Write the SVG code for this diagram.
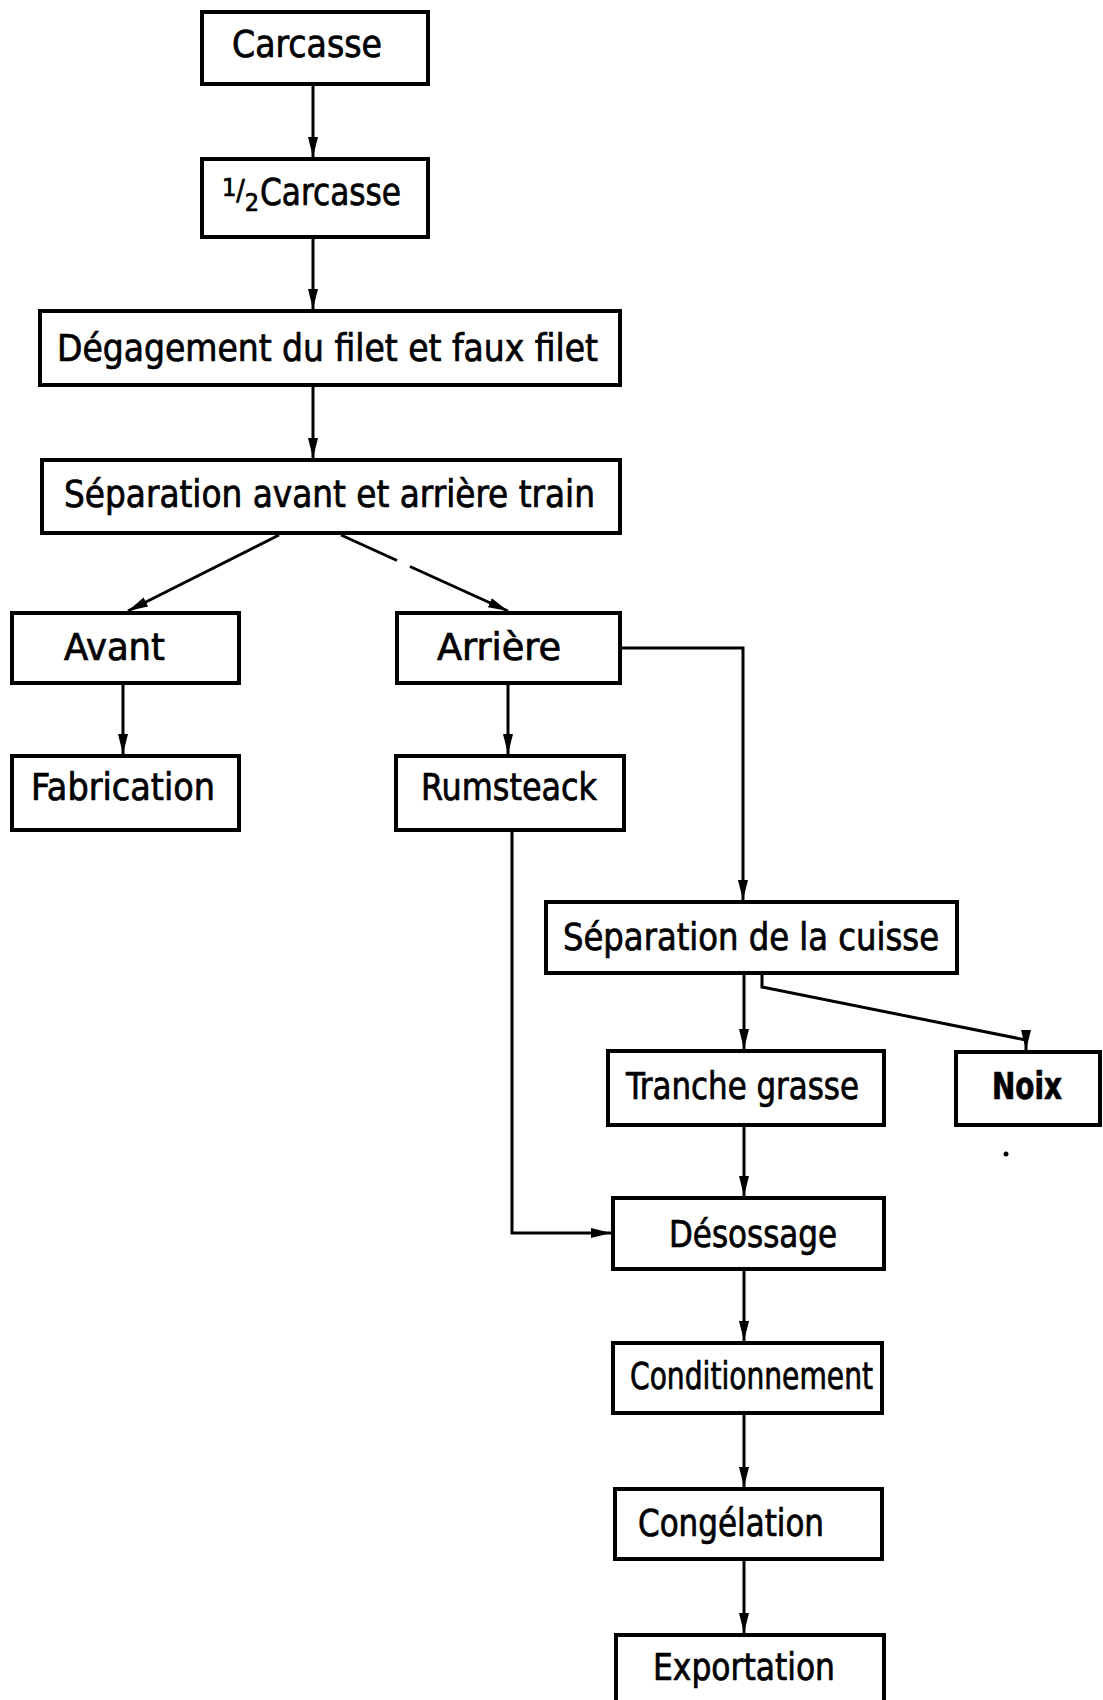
<svg xmlns="http://www.w3.org/2000/svg" width="1103" height="1700" viewBox="0 0 1103 1700">
<style>
.box{fill:#fff;stroke:#000;stroke-width:4}
.lbl{font-family:"DejaVu Sans Condensed","DejaVu Sans",sans-serif;font-size:37px;fill:#000;stroke:#000;stroke-width:0.7}
.con{fill:none;stroke:#000;stroke-width:3}
</style>
<defs>
<marker id="ah" markerUnits="userSpaceOnUse" viewBox="0 0 20 10" refX="20" refY="5" markerWidth="20" markerHeight="11" orient="auto">
<path d="M0,0 L20,5 L0,10 z" fill="#000"/>
</marker>
</defs>
<rect width="1103" height="1700" fill="#fff"/>
<g id="connectors">
<path class="con" d="M313,84 L313,157" marker-end="url(#ah)"/>
<path class="con" d="M313,239 L313,309" marker-end="url(#ah)"/>
<path class="con" d="M313,387 L313,458" marker-end="url(#ah)"/>
<path class="con" d="M279,535 L128,611" marker-end="url(#ah)"/>
<path class="con" d="M341,535 L397,560.5"/>
<path class="con" d="M410,566.5 L508,611" marker-end="url(#ah)"/>
<path class="con" d="M123,685 L123,754" marker-end="url(#ah)"/>
<path class="con" d="M508,685 L508,754" marker-end="url(#ah)"/>
<path class="con" d="M622,648 L743,648 L743,900" marker-end="url(#ah)"/>
<path class="con" d="M744,975 L744,1049" marker-end="url(#ah)"/>
<path class="con" d="M762,975 L762,987 L1026,1040 L1026,1050" marker-end="url(#ah)"/>
<path class="con" d="M744,1127 L744,1196" marker-end="url(#ah)"/>
<path class="con" d="M512,832 L512,1233 L611,1233" marker-end="url(#ah)"/>
<path class="con" d="M744,1271 L744,1341" marker-end="url(#ah)"/>
<path class="con" d="M744,1415 L744,1487" marker-end="url(#ah)"/>
<path class="con" d="M744,1561 L744,1633" marker-end="url(#ah)"/>
</g>
<g id="n-carcasse"><rect class="box" x="202" y="12" width="226" height="72"/><text class="lbl" x="232" y="57" textLength="150" lengthAdjust="spacingAndGlyphs">Carcasse</text></g>
<g id="n-demi-carcasse"><rect class="box" x="202" y="159" width="226" height="78"/><text class="lbl" x="222" y="205"><tspan font-size="25" dy="-9">1</tspan><tspan font-size="28" dy="4">/</tspan><tspan font-size="25" dy="11">2</tspan><tspan x="260" dy="-6" textLength="141" lengthAdjust="spacingAndGlyphs">Carcasse</tspan></text></g>
<g id="n-degagement"><rect class="box" x="40" y="311" width="580" height="74"/><text class="lbl" x="57" y="361" textLength="541" lengthAdjust="spacingAndGlyphs">Dégagement du filet et faux filet</text></g>
<g id="n-separation"><rect class="box" x="42" y="460" width="578" height="73"/><text class="lbl" x="64" y="507" textLength="531" lengthAdjust="spacingAndGlyphs">Séparation avant et arrière train</text></g>
<g id="n-avant"><rect class="box" x="12" y="613" width="227" height="70"/><text class="lbl" x="64" y="660" textLength="101" lengthAdjust="spacingAndGlyphs">Avant</text></g>
<g id="n-arriere"><rect class="box" x="397" y="613" width="223" height="70"/><text class="lbl" x="437" y="660" textLength="124" lengthAdjust="spacingAndGlyphs">Arrière</text></g>
<g id="n-fabrication"><rect class="box" x="12" y="756" width="227" height="74"/><text class="lbl" x="31" y="800" textLength="184" lengthAdjust="spacingAndGlyphs">Fabrication</text></g>
<g id="n-rumsteack"><rect class="box" x="396" y="756" width="228" height="74"/><text class="lbl" x="421" y="800" textLength="176" lengthAdjust="spacingAndGlyphs">Rumsteack</text></g>
<g id="n-cuisse"><rect class="box" x="546" y="902" width="411" height="71"/><text class="lbl" x="563" y="950" textLength="376" lengthAdjust="spacingAndGlyphs">Séparation de la cuisse</text></g>
<g id="n-tranche"><rect class="box" x="608" y="1051" width="276" height="74"/><text class="lbl" x="626" y="1099" textLength="233" lengthAdjust="spacingAndGlyphs">Tranche grasse</text></g>
<g id="n-noix"><rect class="box" x="956" y="1052" width="144" height="73"/><text class="lbl" x="992" y="1099" textLength="70" lengthAdjust="spacingAndGlyphs" font-weight="bold">Noix</text></g>
<g id="n-desossage"><rect class="box" x="613" y="1198" width="271" height="71"/><text class="lbl" x="669" y="1247" textLength="168" lengthAdjust="spacingAndGlyphs">Désossage</text></g>
<g id="n-conditionnement"><rect class="box" x="613" y="1343" width="269" height="70"/><text class="lbl" x="630" y="1389" textLength="243" lengthAdjust="spacingAndGlyphs">Conditionnement</text></g>
<g id="n-congelation"><rect class="box" x="615" y="1489" width="267" height="70"/><text class="lbl" x="638" y="1536" textLength="186" lengthAdjust="spacingAndGlyphs">Congélation</text></g>
<g id="n-exportation"><rect class="box" x="616" y="1635" width="268" height="80"/><text class="lbl" x="653" y="1680" textLength="182" lengthAdjust="spacingAndGlyphs">Exportation</text></g>
<circle cx="1006" cy="1154" r="2.5" fill="#000"/>
</svg>
